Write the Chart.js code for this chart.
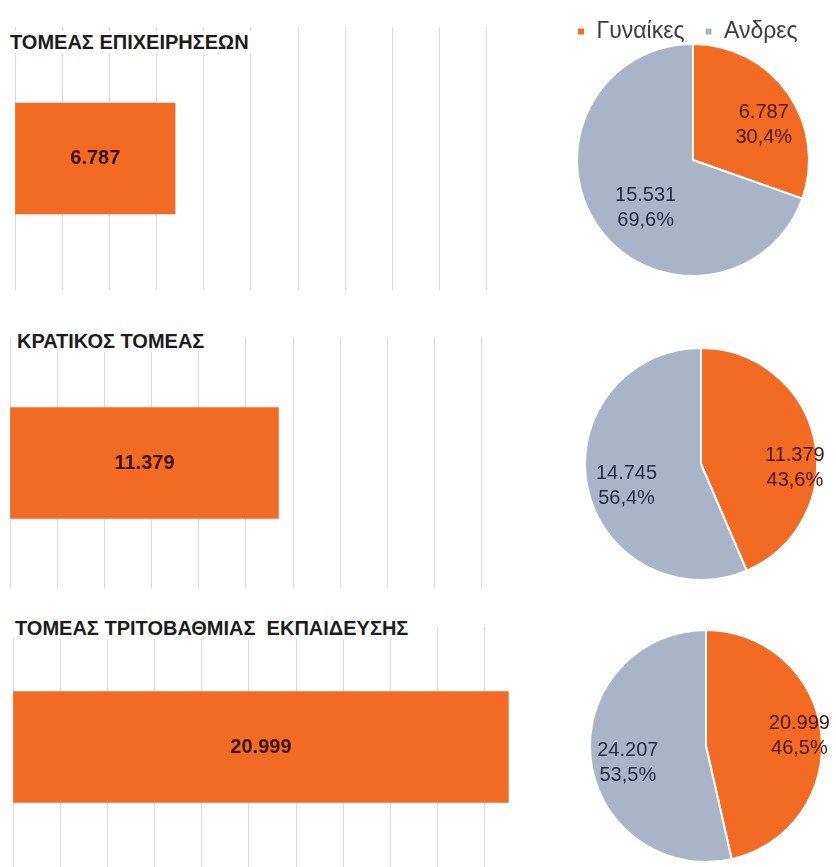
<!DOCTYPE html>
<html>
<head>
<meta charset="utf-8">
<script src="https://cdn.jsdelivr.net/npm/chart.js@4.4.1/dist/chart.umd.min.js"></script>
<style>
  body { margin: 0; background: #fff; }
  #wrap { position: relative; width: 836px; height: 867px; overflow: hidden; }
  canvas, .title { position: absolute; }
  .title {
    font-family: "Liberation Sans", Arial, sans-serif;
    font-weight: bold; font-size: 20px; color: #1c1c1c;
    background: #fff; line-height: 22px; padding: 0 2px; white-space: pre;
  }
</style>
</head>
<body>
<div id="wrap"></div>
<script>
// data
const sectors = ['ΤΟΜΕΑΣ ΕΠΙΧΕΙΡΗΣΕΩΝ', 'ΚΡΑΤΙΚΟΣ ΤΟΜΕΑΣ', 'ΤΟΜΕΑΣ ΤΡΙΤΟΒΑΘΜΙΑΣ  ΕΚΠΑΙΔΕΥΣΗΣ'];
const genders = ['Γυναίκες', 'Ανδρες'];
const women = [6787, 11379, 20999];
const men = [15531, 14745, 24207];
const axisMax = 22000;
const axisStep = 2000;
const gridLast = 20000;

// layout / style
const ORANGE = '#F36A22';
const GREY = '#AAB4C8';
const pxPerUnit = 0.02357;
const panels = [
  { barLeft: 15, top: 27, bottom: 290, titleX: 10, titleY: 31, cx: 693, cy: 160, frac: [0.68, 0.58], turn: [9, -10] },
  { barLeft: 10, top: 338, bottom: 588, titleX: 17, titleY: 330, cx: 701, cy: 464, frac: [0.81, 0.67], turn: [14, -5] },
  { barLeft: 13, top: 627, bottom: 867, titleX: 15, titleY: 617, cx: 706, cy: 746, frac: [0.81, 0.69], turn: [0, -6] }
];
const R = 117;

const wrap = document.getElementById('wrap');

const fmtNum = v => String(v).replace(/\B(?=(\d{3})+(?!\d))/g, '.');
const fmtPct = p => p.toFixed(1).replace('.', ',') + '%';

function addCanvas(left, top, w, h) {
  const c = document.createElement('canvas');
  c.width = w; c.height = h;
  c.style.left = left + 'px'; c.style.top = top + 'px';
  c.style.width = w + 'px'; c.style.height = h + 'px';
  wrap.appendChild(c);
  return c;
}

// label in the middle of the bar
const barLabel = {
  id: 'barLabel',
  afterDatasetsDraw(chart) {
    const ctx = chart.ctx;
    chart.getDatasetMeta(0).data.forEach((bar, i) => {
      const v = chart.data.datasets[0].data[i];
      ctx.save();
      ctx.font = 'bold 20px "Liberation Sans", Arial, sans-serif';
      ctx.fillStyle = '#3a1508';
      ctx.textAlign = 'center';
      ctx.textBaseline = 'middle';
      ctx.fillText(fmtNum(v), (bar.base + bar.x) / 2, bar.y);
      ctx.restore();
    });
  }
};

// value + percent inside slices
const pieLabels = {
  id: 'pieLabels',
  afterDatasetsDraw(chart, args, opts) {
    const ctx = chart.ctx;
    const vals = chart.data.datasets[0].data;
    const total = vals.reduce((a, b) => a + b, 0);
    chart.getDatasetMeta(0).data.forEach((arc, i) => {
      const mid = (arc.startAngle + arc.endAngle) / 2 + opts.turn[i] * Math.PI / 180;
      const r = arc.outerRadius * opts.frac[i];
      const x = arc.x + Math.cos(mid) * r;
      const y = arc.y + Math.sin(mid) * r;
      ctx.save();
      ctx.font = '20px "Liberation Sans", Arial, sans-serif';
      ctx.fillStyle = i === 0 ? '#4a1808' : '#1f2a44';
      ctx.textAlign = 'center';
      ctx.textBaseline = 'middle';
      ctx.fillText(fmtNum(vals[i]), x, y - 12.5);
      ctx.fillText(fmtPct(vals[i] / total * 100), x, y + 12.5);
      ctx.restore();
    });
  }
};

panels.forEach((p, k) => {
  // bar chart
  const w = Math.round(axisMax * pxPerUnit) + 6;
  const bc = addCanvas(p.barLeft - 3, p.top, w, p.bottom - p.top);
  new Chart(bc, {
    type: 'bar',
    data: {
      labels: [sectors[k]],
      datasets: [{ data: [women[k]], backgroundColor: ORANGE, barThickness: 111 }]
    },
    options: {
      indexAxis: 'y',
      responsive: false,
      animation: false,
      layout: { padding: { left: 3, right: 3, top: 0, bottom: 0 } },
      plugins: { legend: { display: false }, tooltip: { enabled: false } },
      scales: {
        x: {
          min: 0, max: axisMax,
          ticks: { display: false, stepSize: axisStep },
          border: { display: false },
          grid: {
            drawTicks: false,
            lineWidth: 1,
            color: c => (c.tick && c.tick.value <= gridLast) ? '#d9d9d9' : 'rgba(0,0,0,0)'
          }
        },
        y: { display: false }
      }
    },
    plugins: [barLabel]
  });

  // title
  const t = document.createElement('div');
  t.className = 'title';
  t.textContent = sectors[k];
  t.style.left = (p.titleX - 2) + 'px';
  t.style.top = p.titleY + 'px';
  wrap.appendChild(t);

  // pie chart (the first one carries the legend)
  const showLegend = k === 0;
  let left, top, pw, ph, padding;
  if (showLegend) {
    pw = 272; left = p.cx - pw / 2; top = 0; ph = 300;
    padding = { left: 0, right: 0, top: 0, bottom: top + ph - (p.cy + R) };
  } else {
    pw = 266; left = 570; top = p.cy - 130; ph = 260;
    const padL = p.cx - R - left;
    padding = { left: padL, right: pw - padL - 2 * R, top: p.cy - R - top, bottom: top + ph - (p.cy + R) };
  }
  const pc = addCanvas(left, top, pw, ph);
  new Chart(pc, {
    type: 'pie',
    data: {
      labels: genders,
      datasets: [{
        data: [women[k], men[k]],
        backgroundColor: [ORANGE, GREY],
        borderColor: '#fff',
        borderWidth: 2
      }]
    },
    options: {
      responsive: false,
      animation: false,
      layout: { padding },
      plugins: {
        legend: {
          display: showLegend,
          position: 'top',
          align: 'start',
          maxHeight: p.cy - R - top,
          labels: {
            usePointStyle: true,
            pointStyle: 'rect',
            boxWidth: 8, boxHeight: 8,
            padding: 20,
            color: '#3c3c3c',
            font: { family: '"Liberation Sans", Arial, sans-serif', size: 23 }
          }
        },
        tooltip: { enabled: false },
        pieLabels: { frac: p.frac, turn: p.turn }
      }
    },
    plugins: [pieLabels]
  });
});
</script>
</body>
</html>
